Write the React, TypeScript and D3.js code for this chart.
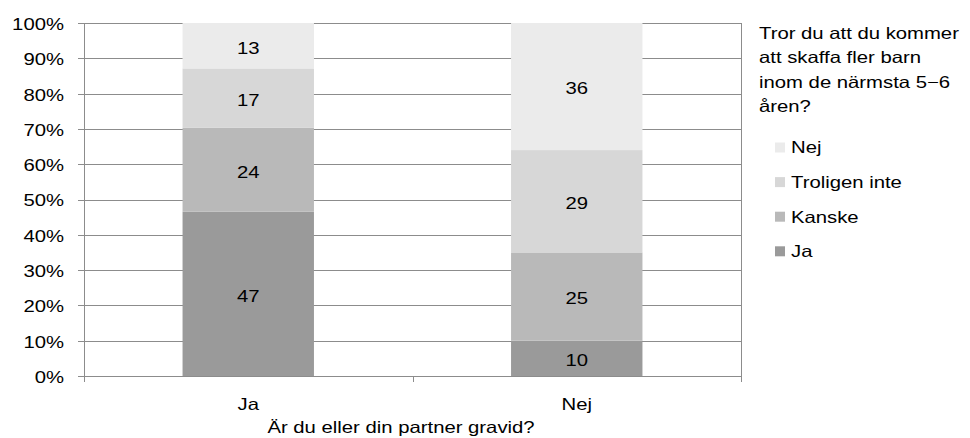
import React from "react";
import * as d3 from "d3";

const categories = ["Ja", "Nej"];
const seriesNames = ["Ja", "Kanske", "Troligen inte", "Nej"];
const valuesJa = [47, 24, 17, 13];
const valuesNej = [10, 25, 29, 36];
const seriesColors = ["#9a9a9a", "#b9b9b9", "#d7d7d7", "#ebebeb"];
const yTicks = [0, 0.1, 0.2, 0.3, 0.4, 0.5, 0.6, 0.7, 0.8, 0.9, 1];
const legendTitle = ["Tror du att du kommer", "att skaffa fler barn", "inom de närmsta 5\u22126", "åren?"];
const xTitle = "Är du eller din partner gravid?";

const W = 970;
const H = 438;
const M = { left: 84, right: 741, top: 23, bottom: 376 };
const FONT = "'Liberation Sans', Arial, sans-serif";
const FS = 16.5;
const SX = 1.23;

function T({ x, y, anchor = "start", dy = 0, children }: { x: number; y: number; anchor?: string; dy?: number; children: React.ReactNode }) {
  return (
    <text transform={`translate(${x},${y + dy}) scale(${SX},1)`} textAnchor={anchor} fontSize={FS} fill="#000">
      {children}
    </text>
  );
}

export default function App() {
  const x = d3.scaleBand<string>().domain(categories).range([M.left, M.right]).paddingInner(0.6).paddingOuter(0.3);
  const y = d3.scaleLinear().domain([0, 1]).range([M.bottom, M.top]);
  const rows = [valuesJa, valuesNej];
  const grid = "#8c8c8c";
  const mid = FS * 0.358;

  return (
    <svg width={W} height={H} style={{ position: "absolute", left: 0, top: 0, background: "#fff" }} fontFamily={FONT}>
      {yTicks.map((t) => (
        <g key={t}>
          <line x1={M.left - 6} x2={M.right} y1={Math.round(y(t)) + 0.5} y2={Math.round(y(t)) + 0.5} stroke={grid} strokeWidth={1} />
          <T x={64} y={y(t)} dy={mid + 1} anchor="end">{`${Math.round(t * 100)}%`}</T>
        </g>
      ))}
      {rows.map((vals, ci) => {
        const total = d3.sum(vals);
        const stacks = d3.cumsum(vals);
        return vals.map((v, si) => {
          const y0 = y((stacks[si] - v) / total);
          const y1 = y(stacks[si] / total);
          const bx = x(categories[ci])!;
          return (
            <g key={`${ci}-${si}`}>
              <rect x={bx} y={y1} width={x.bandwidth()} height={y0 - y1} fill={seriesColors[si]} />
              <T x={bx + x.bandwidth() / 2} y={(y0 + y1) / 2} dy={mid + 2} anchor="middle">{v}</T>
            </g>
          );
        });
      })}
      <line x1={M.left + 0.5} x2={M.left + 0.5} y1={M.top} y2={M.bottom + 6} stroke={grid} strokeWidth={1} />
      <line x1={M.right + 0.5} x2={M.right + 0.5} y1={M.top} y2={M.bottom + 6} stroke={grid} strokeWidth={1} />
      <line x1={M.left} x2={M.right} y1={M.bottom + 0.5} y2={M.bottom + 0.5} stroke={grid} strokeWidth={1} />
      <line x1={Math.round((M.left + M.right) / 2) + 0.5} x2={Math.round((M.left + M.right) / 2) + 0.5} y1={M.bottom} y2={M.bottom + 6} stroke={grid} strokeWidth={1} />
      {categories.map((c) => (
        <T key={c} x={x(c)! + x.bandwidth() / 2} y={410} anchor="middle">{c}</T>
      ))}
      <T x={401} y={433} anchor="middle">{xTitle}</T>
      {legendTitle.map((l, i) => (
        <T key={i} x={759} y={38.5 + i * 24.5}>{l}</T>
      ))}
      {seriesNames.slice().reverse().map((s, i) => {
        const si = seriesNames.length - 1 - i;
        const cy = 147.5 + i * 34.6;
        return (
          <g key={s}>
            <rect x={775} y={cy - 5} width={10} height={10} fill={seriesColors[si]} />
            <T x={791} y={cy} dy={mid}>{s}</T>
          </g>
        );
      })}
    </svg>
  );
}
